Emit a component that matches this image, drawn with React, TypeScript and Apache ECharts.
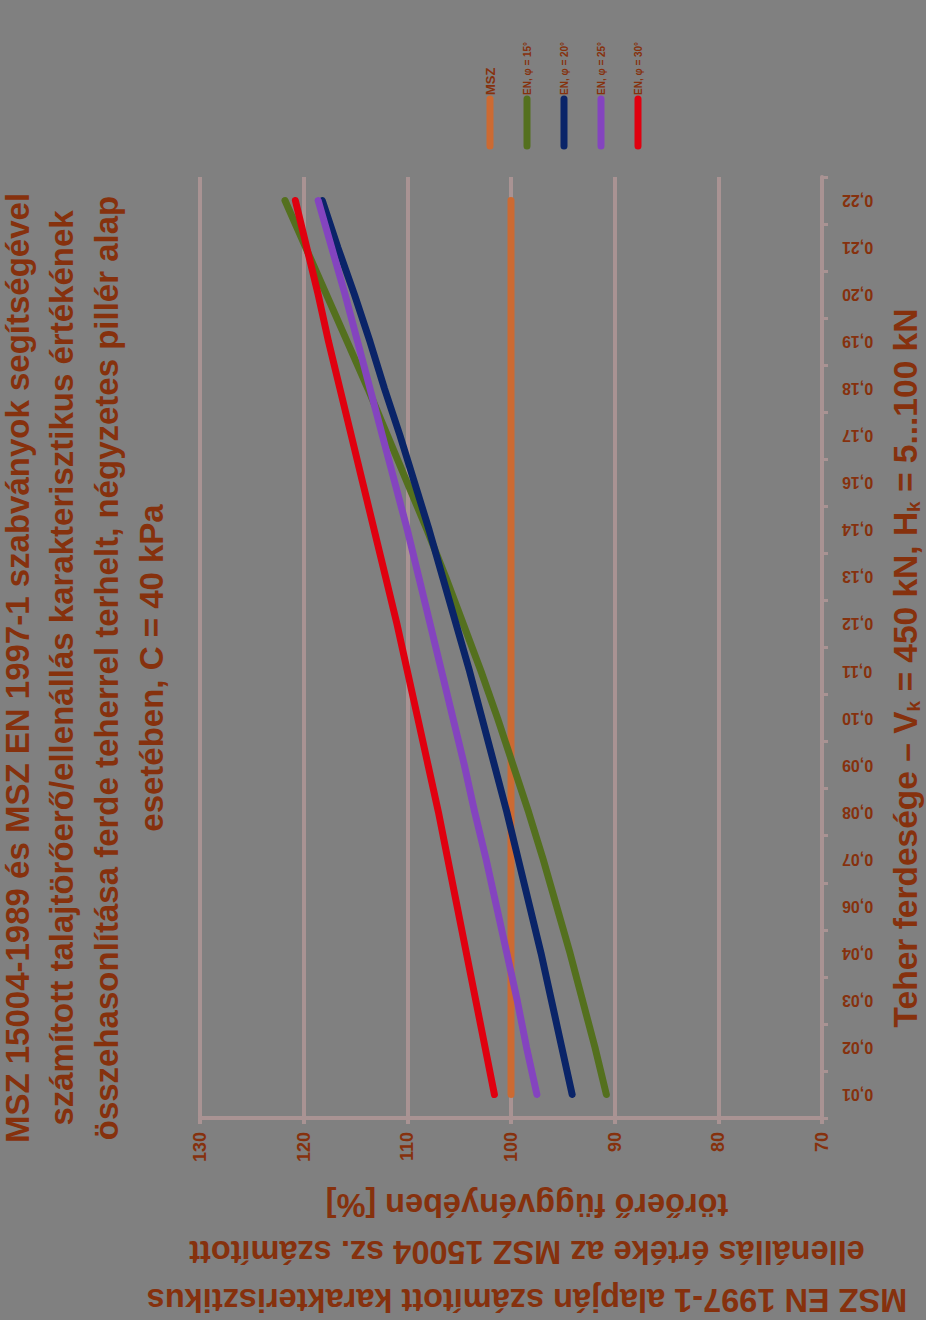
import React, { useEffect, useRef } from "react";
import * as echarts from "echarts";

const categories = [
  "0,01", "0,02", "0,03", "0,04", "0,06", "0,07", "0,08", "0,09", "0,10", "0,11",
  "0,12", "0,13", "0,14", "0,16", "0,17", "0,18", "0,19", "0,20", "0,21", "0,22",
];

const seriesNames = ["MSZ", "EN, φ = 15°", "EN, φ = 20°", "EN, φ = 25°", "EN, φ = 30°"];

const mszValues = [100, 100, 100, 100, 100, 100, 100, 100, 100, 100, 100, 100, 100, 100, 100, 100, 100, 100, 100, 100];
const en15Values = [90.8, 91.9, 93.1, 94.3, 95.6, 96.9, 98.3, 99.8, 101.3, 102.9, 104.6, 106.3, 108.1, 110.0, 111.9, 113.8, 115.8, 117.8, 119.8, 121.8];
const en20Values = [94.1, 95.1, 96.1, 97.1, 98.2, 99.3, 100.4, 101.6, 102.8, 104.0, 105.3, 106.6, 107.9, 109.3, 110.7, 112.2, 113.6, 115.1, 116.7, 118.2];
const en25Values = [97.5, 98.5, 99.4, 100.4, 101.4, 102.4, 103.5, 104.5, 105.6, 106.7, 107.8, 108.9, 110.0, 111.2, 112.4, 113.6, 114.8, 116.0, 117.3, 118.6];
const en30Values = [101.6, 102.5, 103.4, 104.3, 105.2, 106.1, 107.0, 108.0, 109.0, 110.0, 111.0, 112.1, 113.2, 114.3, 115.4, 116.5, 117.6, 118.6, 119.7, 120.8];

const seriesColors = ["#cc6a32", "#54701e", "#0a2468", "#8444bf", "#e0000f"];

const titleLines = [
  "MSZ 15004-1989 és MSZ EN 1997-1 szabványok segítségével",
  "számított talajtörőerő/ellenállás karakterisztikus értékének",
  "összehasonlítása ferde teherrel terhelt, négyzetes pillér alap",
  "esetében, C = 40 kPa",
];

const valueAxisTitleLines = [
  "MSZ EN 1997-1 alapján számított karakterisztikus",
  "ellenállás értéke az MSZ 15004 sz. számított",
  "törőerő függvényében [%]",
];

const TEXT = "#86310d";
const GRID = "#a99393";
const FONT = "Liberation Sans";

function textEl(text: string, x: number, y: number, rotation: number, fontSize: number, align = "center", extra: any = {}) {
  return {
    type: "text",
    x,
    y,
    rotation,
    silent: true,
    style: {
      text,
      fill: TEXT,
      fontSize,
      fontWeight: "bold",
      fontFamily: FONT,
      align,
      verticalAlign: "middle",
      textAlign: align,
      textVerticalAlign: "middle",
      ...extra,
    },
  };
}

export default function App() {
  const ref = useRef<HTMLDivElement>(null);
  useEffect(() => {
    if (!ref.current) return;
    const chart = echarts.init(ref.current, undefined, { renderer: "svg" });
    const allValues = [mszValues, en15Values, en20Values, en25Values, en30Values];

    const graphics: any[] = [];
    const titleX = [17, 61, 106, 151];
    titleLines.forEach((t, i) => graphics.push(textEl(t, titleX[i], 668, Math.PI / 2, 33)));
    const vtY = [1300, 1252, 1205];
    valueAxisTitleLines.forEach((t, i) => graphics.push(textEl(t, 527, vtY[i], Math.PI, 32.5)));
    graphics.push(
      textEl("Teher ferdesége – V{sub|k} = 450 kN, H{sub|k} = 5...100 kN", 905, 668, Math.PI / 2, 33.5, "center", {
        rich: {
          sub: { fontSize: 19, fontWeight: "bold", fontFamily: FONT, fill: TEXT, padding: [16, 0, 0, 0] },
        },
      })
    );
    const legendX = [490, 527, 564, 601, 638];
    seriesNames.forEach((n, i) => {
      graphics.push({
        type: "line",
        silent: true,
        shape: { x1: legendX[i], y1: 99, x2: legendX[i], y2: 146 },
        style: { stroke: seriesColors[i], lineWidth: 7, lineCap: "round" },
      });
      graphics.push(textEl(n, legendX[i], 95, Math.PI / 2, i === 0 ? 13 : 10, "left"));
    });

    chart.setOption({
      animation: false,
      backgroundColor: "#808080",
      grid: { left: 200, right: 104, top: 177, bottom: 202, containLabel: false },
      xAxis: {
        type: "value",
        min: 70,
        max: 130,
        interval: 10,
        inverse: true,
        position: "bottom",
        axisLine: { show: true, lineStyle: { color: GRID, width: 4 } },
        axisTick: { show: true, length: 6, lineStyle: { color: GRID, width: 4 } },
        splitLine: { show: true, lineStyle: { color: GRID, width: 4 } },
        axisLabel: {
          rotate: 90,
          margin: 14,
          color: TEXT,
          fontSize: 18,
          fontWeight: "bold",
          fontFamily: FONT,
        },
      },
      yAxis: {
        type: "category",
        data: categories,
        position: "right",
        boundaryGap: true,
        axisLine: { show: true, lineStyle: { color: GRID, width: 4 } },
        axisTick: { show: true, length: 6, lineStyle: { color: GRID, width: 3 } },
        splitLine: { show: false },
        axisLabel: {
          rotate: 180,
          margin: 20,
          color: TEXT,
          fontSize: 16,
          fontWeight: "bold",
          fontFamily: FONT,
        },
      },
      series: allValues.map((vals, i) => ({
        name: seriesNames[i],
        type: "line",
        data: vals,
        symbol: "none",
        lineStyle: { color: seriesColors[i], width: 7, cap: "round" },
        itemStyle: { color: seriesColors[i] },
        z: 3,
      })),
      graphic: graphics,
    });
    return () => chart.dispose();
  }, []);
  return <div ref={ref} style={{ position: "absolute", left: 0, top: 0, width: 926, height: 1320 }} />;
}
